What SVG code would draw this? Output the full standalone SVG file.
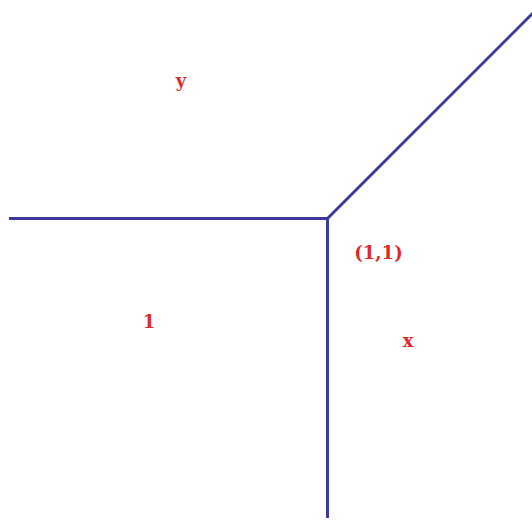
<svg xmlns="http://www.w3.org/2000/svg" width="532" height="521" viewBox="0 0 532 521">
<style>
.ln{stroke:#3b3b9c;stroke-width:3;fill:none;stroke-linecap:butt}
.lb{font-family:"DejaVu Serif","Liberation Serif",serif;font-weight:bold;font-size:18px;fill:#e0282a;text-anchor:middle}
</style>
<rect width="532" height="521" fill="#fff"/>
<g id="connectors">
<line class="ln" x1="9" y1="218.5" x2="327.5" y2="218.5"/>
<line class="ln" x1="327.5" y1="217" x2="327.5" y2="518"/>
<line class="ln" x1="326.5" y1="219.5" x2="533" y2="13"/>
</g>
<g id="label-y"><text class="lb" x="181" y="87">y</text></g>
<g id="label-11"><text class="lb" x="378.5" y="259">(1,1)</text></g>
<g id="label-1"><text class="lb" x="149" y="328">1</text></g>
<g id="label-x"><text class="lb" x="408" y="347">x</text></g>
</svg>
